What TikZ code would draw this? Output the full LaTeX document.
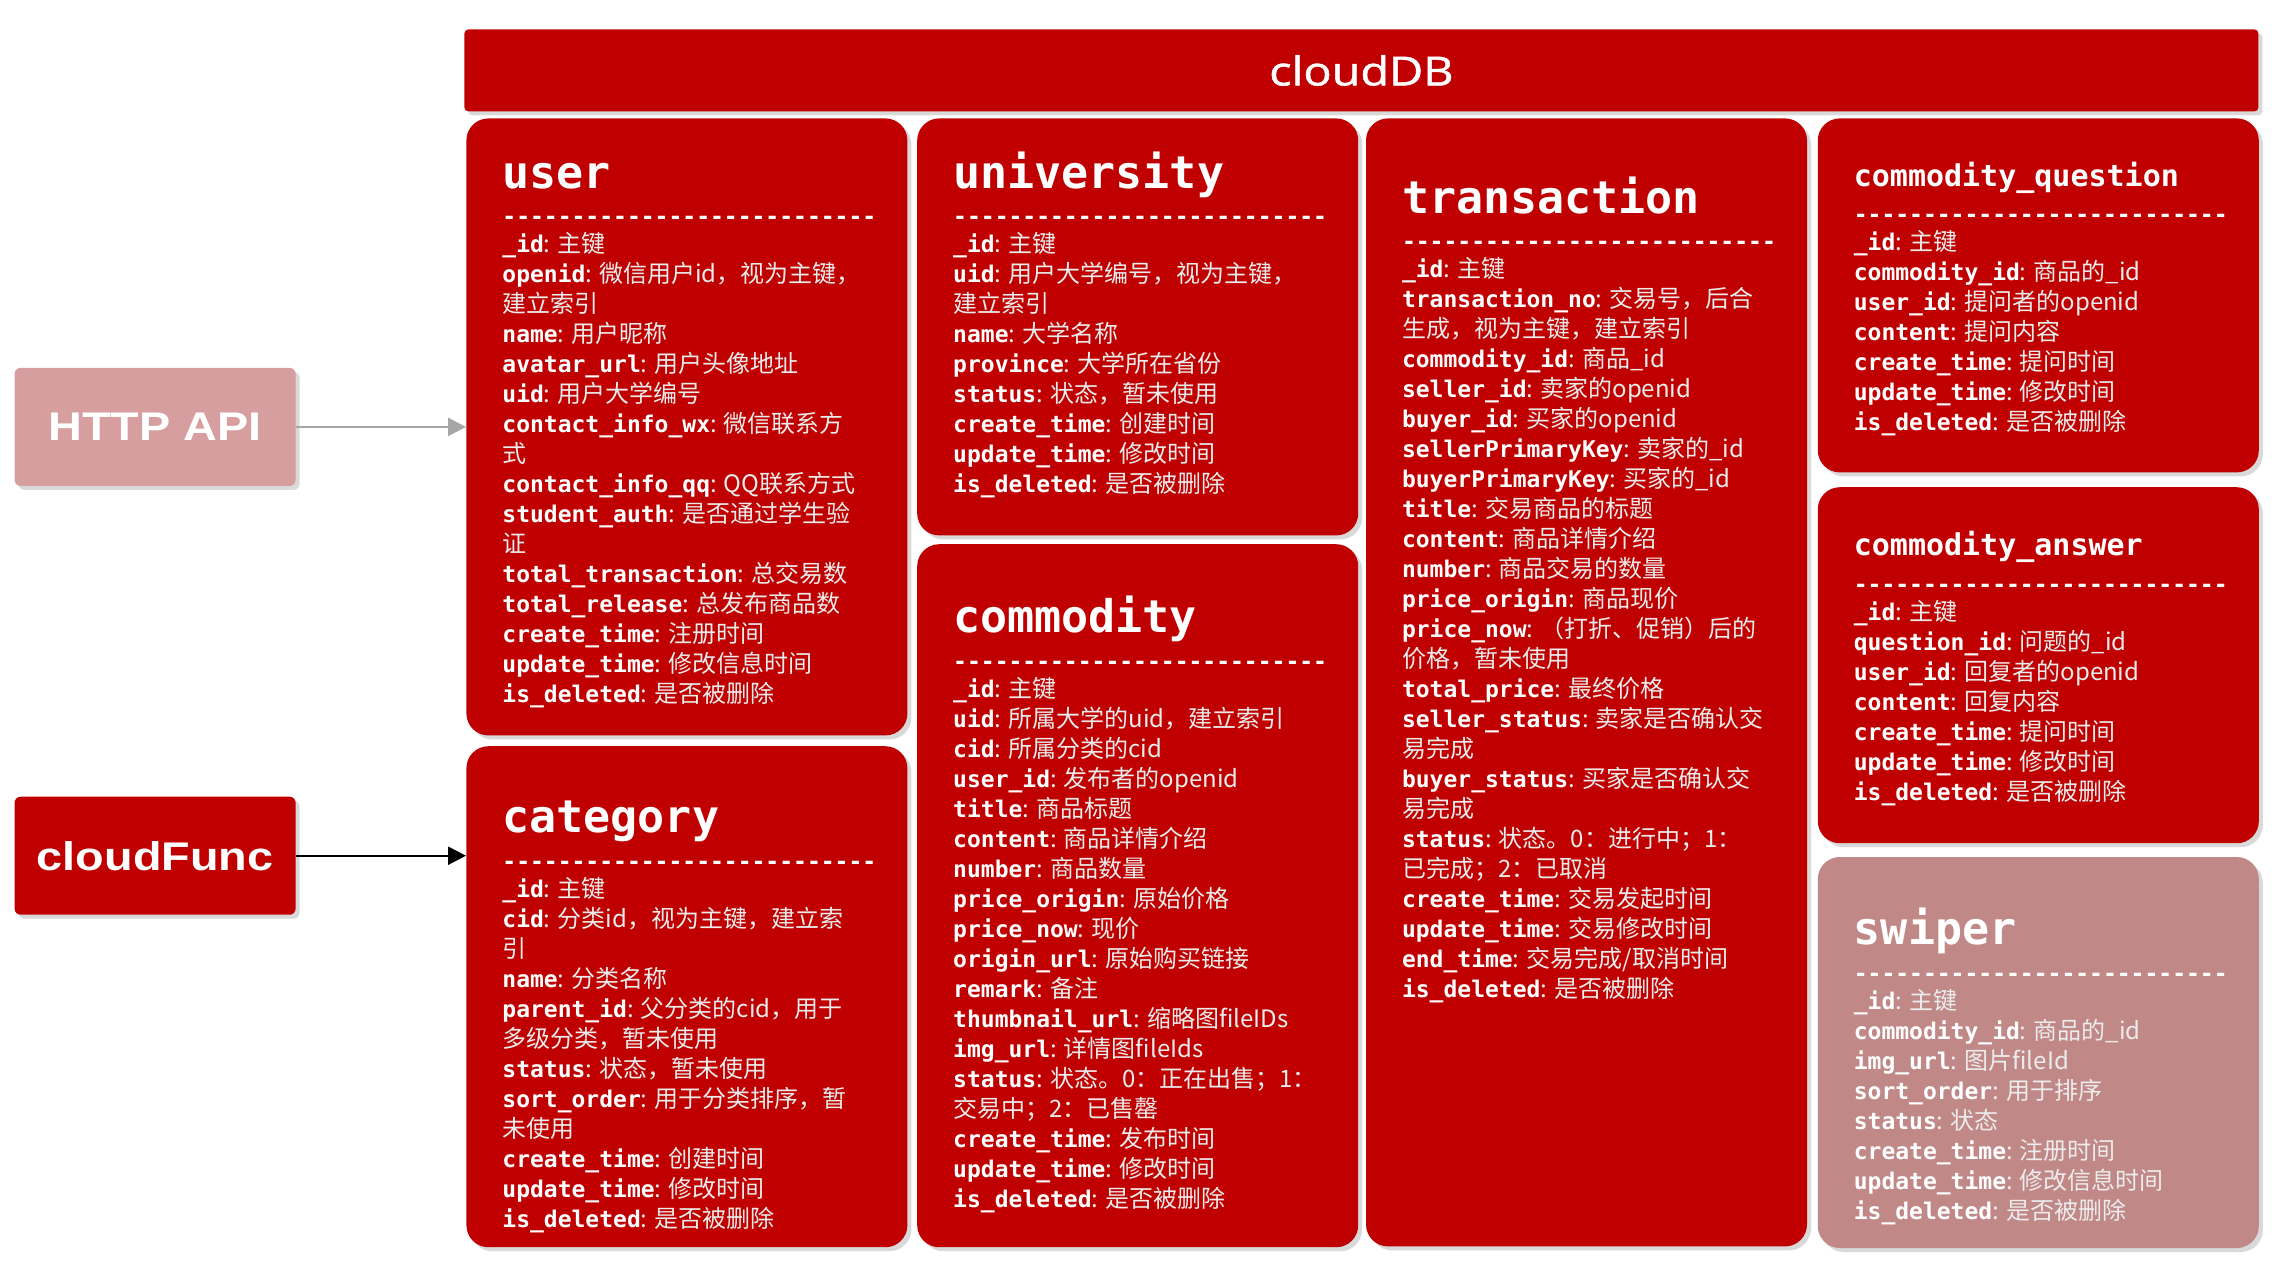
\documentclass[tikz,border=0pt]{standalone}
\usepackage{fontspec}
\usepackage{graphicx}
\setmainfont{Liberation Sans}
\setmonofont{DejaVu Sans Mono}
\newfontfamily\cjk{Noto Sans CJK SC}
\newfontfamily\headfont{Open Sans}[FakeBold=1.2]
\usetikzlibrary{arrows.meta,positioning,shadows}

\definecolor{dbred}{RGB}{192,0,0}
\definecolor{swiperpink}{RGB}{193,136,136}
\definecolor{apipink}{RGB}{214,158,158}
\definecolor{desc}{RGB}{236,236,236}
\definecolor{arrgray}{RGB}{166,166,166}

% field line: bold name, regular description
\newcommand{\fld}[2]{{\ttfamily\bfseries\fontsize{11.5}{15}\selectfont #1}{\cjk\color{desc}: #2}}
% wrapped rest of a description
\newcommand{\cont}[1]{{\cjk\color{desc}#1}}
\newcommand{\dashes}{\rule{0pt}{12pt}{\ttfamily\bfseries\fontsize{11.5}{15}\selectfont ---------------------------}}
\newcommand{\wide}[1]{\scalebox{1.17}[1]{#1}}

\begin{document}
\begin{tikzpicture}[
  tbl/.style={fill=dbred, rounded corners=11pt, minimum width=220.5pt, inner sep=0pt,
    drop shadow={shadow xshift=2pt, shadow yshift=-2pt, opacity=0.3}},
  ttl/.style={text=white, inner sep=0pt, font=\ttfamily\bfseries\fontsize{22.5}{27}\selectfont},
  ttlsm/.style={ttl, font=\ttfamily\bfseries\fontsize{15}{18}\selectfont},
  fields/.style={text=white, inner sep=0pt, align=left, font=\cjk\fontsize{12}{15}\selectfont},
  src/.style={rounded corners=3pt, minimum width=140.5pt, minimum height=59pt, inner sep=0pt,
    text=white, font=\bfseries\fontsize{20}{22}\selectfont,
    drop shadow={shadow xshift=2pt, shadow yshift=-2pt, opacity=0.3}},
  arr/.style={-{Triangle[length=9pt,width=9pt]}, line width=1.2pt}
]
\useasboundingbox (0,0) rectangle (1145pt,-635.5pt);

% cloudDB bar
\node[fill=dbred, rounded corners=2pt, minimum width=897pt, minimum height=41pt, anchor=north west,
  text=white, font=\headfont\fontsize{20}{22}\selectfont,
  drop shadow={shadow xshift=2pt, shadow yshift=-2pt, opacity=0.3}] (clouddb) at (232pt,-14.5pt) {\wide{cloudDB}};

% tables
\node[tbl, minimum height=308.5pt, anchor=north west] (user) at (233pt,-59pt) {};
\node[tbl, minimum height=250.5pt, below=5pt of user] (cat) {};
\node[tbl, minimum height=208.5pt, below right=0pt and 4.5pt of user.north east] (univ) {};
\node[tbl, minimum height=351.5pt, below=4pt of univ] (comm) {};
\node[tbl, minimum height=564pt, below right=0pt and 3.5pt of univ.north east] (trans) {};
\node[tbl, minimum height=177pt, below right=0pt and 5pt of trans.north east] (quest) {};
\node[tbl, minimum height=178pt, below=7pt of quest] (answ) {};
\node[tbl, fill=swiperpink, minimum height=195.5pt, below=6.5pt of answ] (swiper) {};

% callers
\node[src, fill=apipink, left=85pt of user] (http) {\wide{HTTP API}};
\node[src, fill=dbred, below=155pt of http] (func) {\wide{cloudFunc}};
\draw[arr, draw=arrgray, fill=arrgray] (http) -- (user);
\draw[arr] (func) -- (func -| cat.west);

% user
\node[ttl, below right=35pt and 18pt of user.north west, anchor=base west] (usert) {user};
\node[fields, below right=6pt and 0pt of usert.base west] (userf) {\dashes\\[-1pt]
  \fld{\_id}{主键}\\
  \fld{openid}{微信用户id，视为主键，}\\
  \cont{建立索引}\\
  \fld{name}{用户昵称}\\
  \fld{avatar\_url}{用户头像地址}\\
  \fld{uid}{用户大学编号}\\
  \fld{contact\_info\_wx}{微信联系方}\\
  \cont{式}\\
  \fld{contact\_info\_qq}{QQ联系方式}\\
  \fld{student\_auth}{是否通过学生验}\\
  \cont{证}\\
  \fld{total\_transaction}{总交易数}\\
  \fld{total\_release}{总发布商品数}\\
  \fld{create\_time}{注册时间}\\
  \fld{update\_time}{修改信息时间}\\
  \fld{is\_deleted}{是否被删除}};

% category
\node[ttl, below right=43.5pt and 18pt of cat.north west, anchor=base west] (catt) {category};
\node[fields, below right=6pt and 0pt of catt.base west] (catf) {\dashes\\[-1pt]
  \fld{\_id}{主键}\\
  \fld{cid}{分类id，视为主键，建立索}\\
  \cont{引}\\
  \fld{name}{分类名称}\\
  \fld{parent\_id}{父分类的cid，用于}\\
  \cont{多级分类，暂未使用}\\
  \fld{status}{状态，暂未使用}\\
  \fld{sort\_order}{用于分类排序，暂}\\
  \cont{未使用}\\
  \fld{create\_time}{创建时间}\\
  \fld{update\_time}{修改时间}\\
  \fld{is\_deleted}{是否被删除}};

% university
\node[ttl, below right=35pt and 18pt of univ.north west, anchor=base west] (univt) {university};
\node[fields, below right=6pt and 0pt of univt.base west] (univf) {\dashes\\[-1pt]
  \fld{\_id}{主键}\\
  \fld{uid}{用户大学编号，视为主键，}\\
  \cont{建立索引}\\
  \fld{name}{大学名称}\\
  \fld{province}{大学所在省份}\\
  \fld{status}{状态，暂未使用}\\
  \fld{create\_time}{创建时间}\\
  \fld{update\_time}{修改时间}\\
  \fld{is\_deleted}{是否被删除}};

% commodity
\node[ttl, below right=44.5pt and 18pt of comm.north west, anchor=base west] (commt) {commodity};
\node[fields, below right=6pt and 0pt of commt.base west] (commf) {\dashes\\[-1pt]
  \fld{\_id}{主键}\\
  \fld{uid}{所属大学的uid，建立索引}\\
  \fld{cid}{所属分类的cid}\\
  \fld{user\_id}{发布者的openid}\\
  \fld{title}{商品标题}\\
  \fld{content}{商品详情介绍}\\
  \fld{number}{商品数量}\\
  \fld{price\_origin}{原始价格}\\
  \fld{price\_now}{现价}\\
  \fld{origin\_url}{原始购买链接}\\
  \fld{remark}{备注}\\
  \fld{thumbnail\_url}{缩略图fileIDs}\\
  \fld{img\_url}{详情图fileIds}\\
  \fld{status}{状态。0：正在出售；1：}\\
  \cont{交易中；2：已售罄}\\
  \fld{create\_time}{发布时间}\\
  \fld{update\_time}{修改时间}\\
  \fld{is\_deleted}{是否被删除}};

% transaction
\node[ttl, below right=47.5pt and 18pt of trans.north west, anchor=base west] (transt) {transaction};
\node[fields, below right=6pt and 0pt of transt.base west] (transf) {\dashes\\[-1pt]
  \fld{\_id}{主键}\\
  \fld{transaction\_no}{交易号，后合}\\
  \cont{生成，视为主键，建立索引}\\
  \fld{commodity\_id}{商品\_id}\\
  \fld{seller\_id}{卖家的openid}\\
  \fld{buyer\_id}{买家的openid}\\
  \fld{sellerPrimaryKey}{卖家的\_id}\\
  \fld{buyerPrimaryKey}{买家的\_id}\\
  \fld{title}{交易商品的标题}\\
  \fld{content}{商品详情介绍}\\
  \fld{number}{商品交易的数量}\\
  \fld{price\_origin}{商品现价}\\
  \fld{price\_now}{（打折、促销）后的}\\
  \cont{价格，暂未使用}\\
  \fld{total\_price}{最终价格}\\
  \fld{seller\_status}{卖家是否确认交}\\
  \cont{易完成}\\
  \fld{buyer\_status}{买家是否确认交}\\
  \cont{易完成}\\
  \fld{status}{状态。0：进行中；1：}\\
  \cont{已完成；2：已取消}\\
  \fld{create\_time}{交易发起时间}\\
  \fld{update\_time}{交易修改时间}\\
  \fld{end\_time}{交易完成/取消时间}\\
  \fld{is\_deleted}{是否被删除}};

% commodity_question
\node[ttlsm, below right=34pt and 18pt of quest.north west, anchor=base west] (questt) {commodity\_question};
\node[fields, below right=6pt and 0pt of questt.base west] (questf) {\dashes\\[-1pt]
  \fld{\_id}{主键}\\
  \fld{commodity\_id}{商品的\_id}\\
  \fld{user\_id}{提问者的openid}\\
  \fld{content}{提问内容}\\
  \fld{create\_time}{提问时间}\\
  \fld{update\_time}{修改时间}\\
  \fld{is\_deleted}{是否被删除}};

% commodity_answer
\node[ttlsm, below right=34.5pt and 18pt of answ.north west, anchor=base west] (answt) {commodity\_answer};
\node[fields, below right=6pt and 0pt of answt.base west] (answf) {\dashes\\[-1pt]
  \fld{\_id}{主键}\\
  \fld{question\_id}{问题的\_id}\\
  \fld{user\_id}{回复者的openid}\\
  \fld{content}{回复内容}\\
  \fld{create\_time}{提问时间}\\
  \fld{update\_time}{修改时间}\\
  \fld{is\_deleted}{是否被删除}};

% swiper
\node[ttl, below right=44pt and 18pt of swiper.north west, anchor=base west] (swipert) {swiper};
\node[fields, below right=6pt and 0pt of swipert.base west] (swiperf) {\dashes\\[-1pt]
  \fld{\_id}{主键}\\
  \fld{commodity\_id}{商品的\_id}\\
  \fld{img\_url}{图片fileId}\\
  \fld{sort\_order}{用于排序}\\
  \fld{status}{状态}\\
  \fld{create\_time}{注册时间}\\
  \fld{update\_time}{修改信息时间}\\
  \fld{is\_deleted}{是否被删除}};
\end{tikzpicture}
\end{document}
